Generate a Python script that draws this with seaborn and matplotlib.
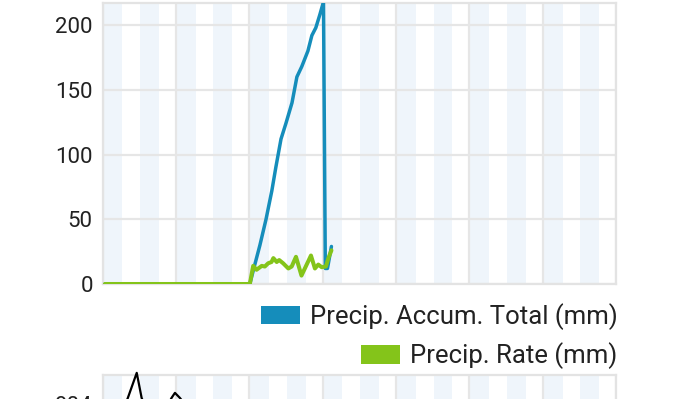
import numpy as np
import pandas as pd
import matplotlib
matplotlib.use("Agg")
import matplotlib.pyplot as plt
import seaborn as sns
from matplotlib.patches import Patch

# ---------------- data (hours from start of the 7-day window) ----------------
total_hours = [0.8, 48.2, 49.5, 51.5, 53.5, 55.4, 56.7, 58.4, 60.0, 62.0, 63.6,
               65.2, 67.2, 68.5, 69.8, 71.1, 72.3, 72.9, 73.6, 74.9]
total_mm = [0, 0, 12, 30, 50, 72, 90, 112, 124, 140, 160,
            168, 180, 192, 198, 208, 218, 12, 12, 29]

rate_hours = [0.8, 48.2, 49.3, 50.4, 52.1, 53.1, 54.2, 55.3, 55.9, 57.0, 57.8,
              59.1, 60.8, 61.9, 63.3, 65.1, 66.8, 68.2, 69.5, 70.6, 71.7,
              73.1, 73.9, 74.9]
rate_mm = [0, 0, 14, 11, 14, 13.5, 16, 17, 20, 17, 18.5,
           16, 12, 13.5, 21, 6.5, 15, 22, 12, 15, 13,
           13.5, 20, 26]

# partial view of the next chart below
next_hours = [5.7, 8.3, 11.2, 12.8, 15.5, 20.4, 22.6, 23.7, 25.3, 28.6]
next_vals = [902.0, 904.8, 908.3, 904.8, 902.0, 903.0, 904.8, 905.5, 904.8, 903.0]

y_ticks = [0, 50, 100, 150, 200]
legend_labels = ["Precip. Accum. Total (mm)", "Precip. Rate (mm)"]

# ---------------- style ----------------
BLUE = "#158dbb"
GREEN = "#84c41a"
STRIPE = "#eff5fb"
GRID = "#e6e6e6"
TEXT = "#222222"

sns.set_theme(style="white")
plt.rcParams["font.family"] = ["Roboto", "DejaVu Sans"]

W, H = 684, 399
fig = plt.figure(figsize=(W / 100, H / 100), dpi=100)

L, R = 102.5, 616.0


def frame(ax):
    for k in range(14):
        ax.axvspan(12 * k + 0.3, 12 * k + 6.5, color=STRIPE, lw=0, zorder=0)
    ax.set_xlim(0, 168)
    ax.set_xticks(range(0, 169, 24))
    ax.set_axisbelow(True)
    ax.grid(True, color=GRID, lw=1.6)
    ax.tick_params(axis="x", labelbottom=False, length=0)
    ax.tick_params(axis="y", length=0, pad=7, labelsize=16, labelcolor=TEXT)
    for s in ax.spines.values():
        s.set_color("#e3e3e3")
        s.set_linewidth(1.6)
    ax.set_xlabel("")
    ax.set_ylabel("")


# main chart
top_px, bot_px = 2.7, 284.0
ax = fig.add_axes([L / W, 1 - bot_px / H, (R - L) / W, (bot_px - top_px) / H])
frame(ax)
sns.lineplot(x=total_hours, y=total_mm, ax=ax, color=BLUE, lw=2.5,
             sort=False, estimator=None, zorder=3)
sns.lineplot(x=rate_hours, y=rate_mm, ax=ax, color=GREEN, lw=2.9,
             sort=False, estimator=None, zorder=4)
ax.set_ylim(0, 217.3)
ax.set_yticks(y_ticks)
ax.set_yticklabels([str(v) for v in y_ticks])

# legends (right aligned rows)
LFS = 18.5
px_per_em = LFS * 100 / 72
for lab, col, ypx in [(legend_labels[0], BLUE, 316.5), (legend_labels[1], GREEN, 356.0)]:
    fig.legend(handles=[Patch(facecolor=col, edgecolor="none")], labels=[lab],
               loc="center right", bbox_to_anchor=(R / W + 0.002, 1 - ypx / H),
               frameon=False, borderpad=0, borderaxespad=0, fontsize=LFS,
               handlelength=39 / px_per_em, handleheight=19 / px_per_em,
               handletextpad=10 / px_per_em, labelcolor=TEXT)

# next chart (top part visible only)
t2 = 375.0
ax2 = fig.add_axes([L / W, 1 - (t2 + 200) / H, (R - L) / W, 200 / H])
frame(ax2)
sns.lineplot(x=next_hours, y=next_vals, ax=ax2, color="black", lw=1.6,
             sort=False, estimator=None, zorder=3, clip_on=False)
ax2.set_ylim(880, 908)
ax2.set_yticks([904])
ax2.set_yticklabels(["904"])

fig.savefig("out.png", dpi=100)
